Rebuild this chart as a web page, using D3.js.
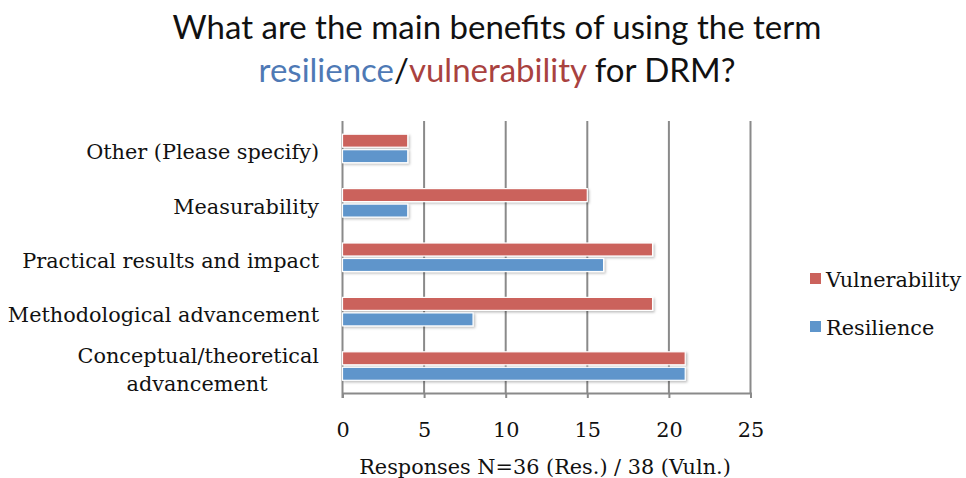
<!DOCTYPE html>
<html><head><meta charset="utf-8">
<script src="https://cdn.jsdelivr.net/npm/d3@7"></script>
<style>body{margin:0;background:#fff}svg{display:block}</style>
</head><body><svg id="c" width="966" height="478"></svg>
<script>
const categories = ["Other (Please specify)", "Measurability", "Practical results and impact", "Methodological advancement", "Conceptual/theoretical advancement"];
const categoryLines = [["Other (Please specify)"], ["Measurability"], ["Practical results and impact"], ["Methodological advancement"], ["Conceptual/theoretical", "advancement"]];
const vulnerability = [4, 15, 19, 19, 21];
const resilience = [4, 4, 16, 8, 21];
const seriesNames = ["Vulnerability", "Resilience"];
const xTicks = [0, 5, 10, 15, 20, 25];

const colors = {Vulnerability: "#CB625C", Resilience: "#5E95CB"};
const svg = d3.select("#c");
const serif = "'DejaVu Serif', 'Liberation Serif', serif";
const sans = "Lato, 'Liberation Sans', sans-serif";
const fs = 20.8;

const x = d3.scaleLinear().domain([0, 25]).range([342.5, 750.5]);
const y = d3.scaleBand().domain(categories).range([121, 393]);

const defs = svg.append("defs");
const f = defs.append("filter").attr("id", "sh").attr("x", "-5%").attr("y", "-30%").attr("width", "115%").attr("height", "180%");
f.append("feDropShadow").attr("dx", 1.5).attr("dy", 1.5).attr("stdDeviation", 1.2).attr("flood-color", "#000").attr("flood-opacity", 0.25);

// title
const t = svg.append("text").attr("text-anchor", "middle").attr("font-family", sans).attr("font-size", 33).attr("fill", "#111");
t.append("tspan").attr("x", 497).attr("y", 39).text("What are the main benefits of using the term");
const l2 = t.append("tspan").attr("x", 497).attr("y", 82);
l2.append("tspan").attr("fill", "#4E79B5").text("resilience");
l2.append("tspan").attr("fill", "#111").text("/");
l2.append("tspan").attr("fill", "#A9423F").text("vulnerability");
l2.append("tspan").attr("fill", "#111").text(" for DRM?");

// grid
svg.append("g").selectAll("line").data(xTicks.slice(1)).join("line")
  .attr("x1", d => x(d)).attr("x2", d => x(d)).attr("y1", 121).attr("y2", 393)
  .attr("stroke", "#8a8a8a").attr("stroke-width", 2);

// axes
const xAxis = d3.axisBottom(x).tickValues(xTicks).tickSize(5).tickFormat(d3.format("d"));
const ax = svg.append("g").attr("transform", "translate(0,393)").call(xAxis);
ax.select(".domain").attr("stroke", "#8a8a8a").attr("stroke-width", 2);
ax.selectAll(".tick line").attr("stroke", "#8a8a8a").attr("stroke-width", 2);
ax.selectAll(".tick text").attr("font-family", serif).attr("font-size", fs).attr("fill", "#111").attr("dy", 0).attr("y", 44);

svg.append("line").attr("x1", x(0)).attr("x2", x(0)).attr("y1", 121).attr("y2", 398)
  .attr("stroke", "#8a8a8a").attr("stroke-width", 2);

// bars
const barH = 13;
const data = [];
categories.forEach((c, i) => {
  data.push({c, s: "Vulnerability", v: vulnerability[i], off: -barH - 1});
  data.push({c, s: "Resilience", v: resilience[i], off: 1.5});
});
svg.append("g").selectAll("rect").data(data).join("rect")
  .attr("x", x(0)).attr("width", d => x(d.v) - x(0))
  .attr("y", d => y(d.c) + y.bandwidth() / 2 + d.off).attr("height", barH)
  .attr("fill", d => colors[d.s]).attr("stroke", "#fff").attr("stroke-width", 1.2)
  .attr("filter", "url(#sh)");

// category labels
const cl = svg.append("g").attr("font-family", serif).attr("font-size", fs).attr("fill", "#111").attr("text-anchor", "end");
categories.forEach((c, i) => {
  const lines = categoryLines[i];
  const cy = y(c) + y.bandwidth() / 2 + 4;
  const lh = 28;
  lines.forEach((ln, j) => {
    const yy = cy + (j - (lines.length - 1) / 2) * lh + 7;
    const t = cl.append("text").attr("x", 319).attr("y", yy).text(ln);
    if (lines.length > 1 && j === 1) t.attr("text-anchor", "middle").attr("x", 197);
  });
});

// axis title
svg.append("text").attr("x", 545).attr("y", 474).attr("text-anchor", "middle")
  .attr("font-family", serif).attr("font-size", fs).attr("fill", "#111")
  .text("Responses N=36 (Res.) / 38 (Vuln.)");

// legend
seriesNames.forEach((s, i) => {
  const yy = 279 + i * 48;
  svg.append("rect").attr("x", 810).attr("y", yy - 6).attr("width", 11).attr("height", 11).attr("fill", colors[s]);
  svg.append("text").attr("x", 826).attr("y", yy + 8).attr("font-family", serif).attr("font-size", fs).attr("fill", "#111").text(s);
});
</script></body></html>
